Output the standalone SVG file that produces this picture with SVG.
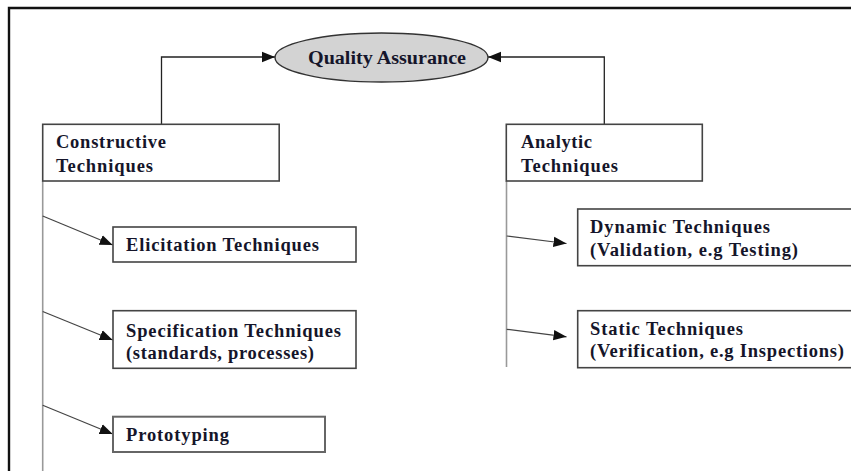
<svg xmlns="http://www.w3.org/2000/svg" width="851" height="471" viewBox="0 0 851 471">
<defs>
<marker id="ah" markerUnits="userSpaceOnUse" markerWidth="14" markerHeight="12" refX="13" refY="6" orient="auto">
<path d="M0,0.8 L13,6 L0,11.2 Z" fill="#111"/>
</marker>
<style>
.box{fill:#fff;stroke:#444;stroke-width:1.6}
.t{font-family:"Liberation Serif","Times New Roman",serif;font-weight:bold;font-size:18.5px;fill:#15152a}
.c{fill:none;stroke:#222;stroke-width:1.3}
.d{fill:none;stroke:#444;stroke-width:1.2}
.v{fill:none;stroke:#999;stroke-width:1.6}
</style>
</defs>
<rect width="851" height="471" fill="#fff"/>
<path d="M9,480 V8 H860" fill="none" stroke="#111" stroke-width="2.4"/>

<g id="connectors">
<path class="c" d="M161.5,124 V57 H275" marker-end="url(#ah)"/>
<path class="c" d="M604.3,124 V57 H488" marker-end="url(#ah)"/>
<path class="v" d="M42.7,181 V471"/>
<path class="v" d="M506.5,181 V367"/>
<path class="d" d="M42.7,216 L112.7,245" marker-end="url(#ah)"/>
<path class="d" d="M42.7,311.5 L112.7,340" marker-end="url(#ah)"/>
<path class="d" d="M42.7,405.3 L112.7,434" marker-end="url(#ah)"/>
<path class="d" d="M506.7,236 L566.5,243.5" marker-end="url(#ah)"/>
<path class="d" d="M506.7,329.3 L566.5,336.8" marker-end="url(#ah)"/>
</g>

<g id="qa">
<ellipse cx="381.5" cy="57.5" rx="106.5" ry="24.5" fill="#d3d3d3" stroke="#333" stroke-width="1.4"/>
<text class="t" x="308" y="63.5" textLength="158" lengthAdjust="spacingAndGlyphs" font-size="17">Quality Assurance</text>
</g>

<g id="constructive">
<rect class="box" x="42.7" y="124.3" width="236.5" height="56.7"/>
<text class="t" x="56" y="148.3" textLength="110" lengthAdjust="spacing">Constructive</text>
<text class="t" x="56" y="171.7" textLength="97" lengthAdjust="spacing">Techniques</text>
</g>

<g id="analytic">
<rect class="box" x="506.3" y="124.3" width="196" height="56.7"/>
<text class="t" x="521" y="148.3" textLength="71" lengthAdjust="spacing">Analytic</text>
<text class="t" x="521" y="171.7" textLength="97" lengthAdjust="spacing">Techniques</text>
</g>

<g id="elicitation">
<rect class="box" x="113" y="227" width="243" height="35"/>
<text class="t" x="126" y="251" textLength="193" lengthAdjust="spacing">Elicitation Techniques</text>
</g>

<g id="specification">
<rect class="box" x="113" y="310.7" width="243" height="57.6"/>
<text class="t" x="126" y="336.7" textLength="215" lengthAdjust="spacing">Specification Techniques</text>
<text class="t" x="126" y="359" textLength="188" lengthAdjust="spacing">(standards, processes)</text>
</g>

<g id="prototyping">
<rect class="box" x="113" y="416.7" width="212" height="35.3" style="stroke:#666;stroke-width:2"/>
<text class="t" x="126" y="440.7" textLength="103" lengthAdjust="spacing">Prototyping</text>
</g>

<g id="dynamic">
<rect class="box" x="577.7" y="209" width="290" height="56.7"/>
<text class="t" x="590" y="233.3" textLength="180" lengthAdjust="spacing">Dynamic Techniques</text>
<text class="t" x="590" y="255.5" textLength="208" lengthAdjust="spacing">(Validation, e.g Testing)</text>
</g>

<g id="static">
<rect class="box" x="577.7" y="310.7" width="290" height="57"/>
<text class="t" x="590" y="335" textLength="153" lengthAdjust="spacing">Static Techniques</text>
<text class="t" x="590" y="357" textLength="254" lengthAdjust="spacing">(Verification, e.g Inspections)</text>
</g>
</svg>
